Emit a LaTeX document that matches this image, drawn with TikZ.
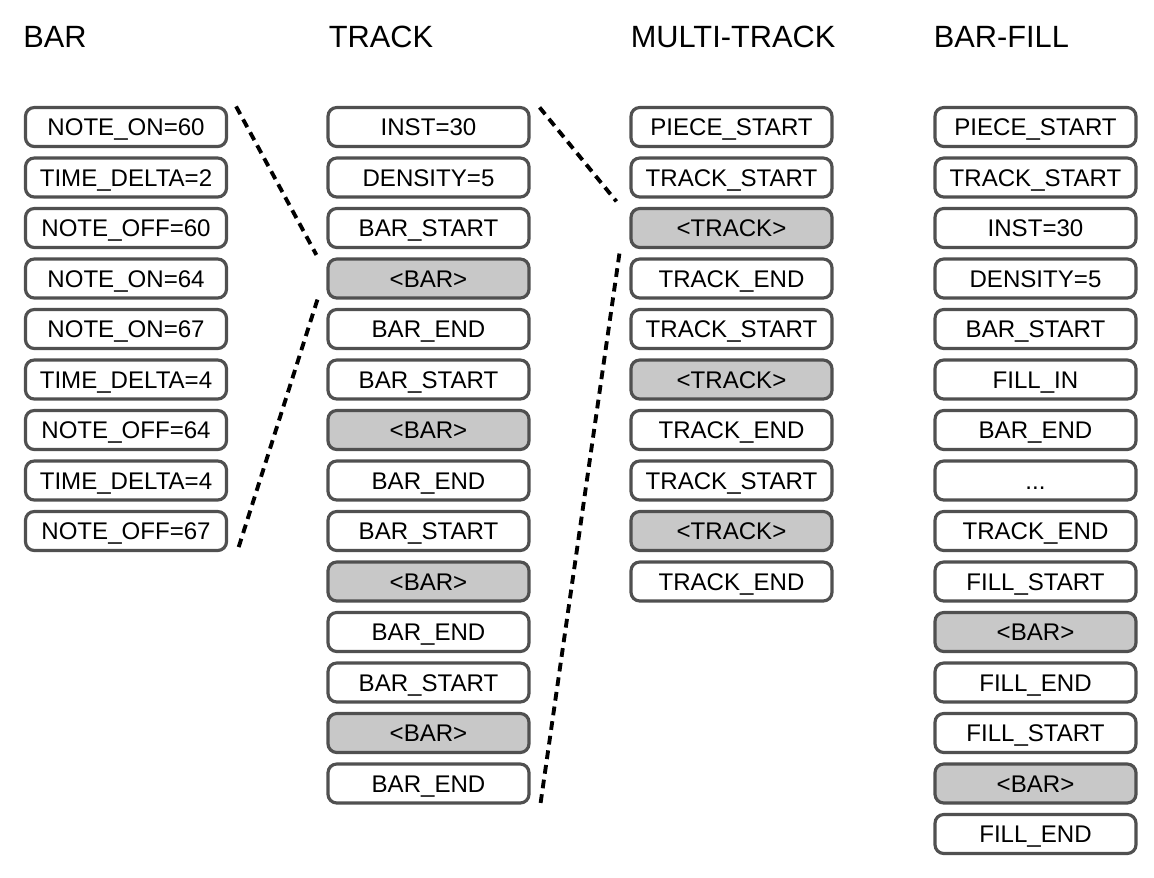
\documentclass[tikz,border=0pt]{standalone}
\usepackage{fontspec}
\setmainfont{Liberation Sans}
\usetikzlibrary{positioning,calc}
\definecolor{boxgray}{HTML}{505050}
\definecolor{barfill}{HTML}{C8C8C8}
\tikzset{
  token/.style={rectangle,draw=boxgray,line width=1.8pt,rounded corners=5pt,
    minimum width=4.02cm,minimum height=0.78cm,inner sep=0pt,fill=white,
    text height=10pt,text depth=0pt,
    font=\fontsize{13.7}{16}\selectfont},
  inner/.style={token,fill=barfill},
  header/.style={anchor=base west,inner sep=0pt,font=\fontsize{17.5}{20}\selectfont},
  dotline/.style={line width=2.2pt,dash pattern=on 5pt off 3.4pt}
}
\begin{document}
\begin{tikzpicture}
    \useasboundingbox (0,0) rectangle (23.08,-17.54);

    % headers
    \node[header] at (0.46, -0.95) (hbar) {BAR};
    \node[header] at (6.57, -0.95) (htrack) {TRACK};
    \node[header] at (12.61, -0.95) (hmulti) {MULTI-TRACK};
    \node[header] at (18.67, -0.95) (hfill) {BAR-FILL};

    % bar
    \node at (2.52, -2.54) [token] (b1) {NOTE\_ON=60};
    \node at (2.52, -3.55) [token] (b2) {TIME\_DELTA=2};
    \node at (2.52, -4.56) [token] (b3) {NOTE\_OFF=60};
    \node at (2.52, -5.57) [token] (b4) {NOTE\_ON=64};
    \node at (2.52, -6.58) [token] (b5) {NOTE\_ON=67};
    \node at (2.52, -7.59) [token] (b6) {TIME\_DELTA=4};
    \node at (2.52, -8.60) [token] (b7) {NOTE\_OFF=64};
    \node at (2.52, -9.61) [token] (b8) {TIME\_DELTA=4};
    \node at (2.52, -10.62) [token] (b9) {NOTE\_OFF=67};

    % track
    \node at (8.57, -2.54) [token] (t1) {INST=30};
    \node at (8.57, -3.55) [token] (t2) {DENSITY=5};
    \node at (8.57, -4.56) [token] (t3) {BAR\_START};
    \node at (8.57, -5.57) [inner] (t4) {<BAR>};
    \node at (8.57, -6.58) [token] (t5) {BAR\_END};
    \node at (8.57, -7.59) [token] (t6) {BAR\_START};
    \node at (8.57, -8.60) [inner] (t7) {<BAR>};
    \node at (8.57, -9.61) [token] (t8) {BAR\_END};
    \node at (8.57, -10.62) [token] (t9) {BAR\_START};
    \node at (8.57, -11.63) [inner] (t10) {<BAR>};
    \node at (8.57, -12.64) [token] (t11) {BAR\_END};
    \node at (8.57, -13.65) [token] (t12) {BAR\_START};
    \node at (8.57, -14.66) [inner] (t13) {<BAR>};
    \node at (8.57, -15.67) [token] (t14) {BAR\_END};

    % multi-track
    \node at (14.63, -2.54) [token] (m1) {PIECE\_START};
    \node at (14.63, -3.55) [token] (m2) {TRACK\_START};
    \node at (14.63, -4.56) [inner] (m3) {<TRACK>};
    \node at (14.63, -5.57) [token] (m4) {TRACK\_END};
    \node at (14.63, -6.58) [token] (m5) {TRACK\_START};
    \node at (14.63, -7.59) [inner] (m6) {<TRACK>};
    \node at (14.63, -8.60) [token] (m7) {TRACK\_END};
    \node at (14.63, -9.61) [token] (m8) {TRACK\_START};
    \node at (14.63, -10.62) [inner] (m9) {<TRACK>};
    \node at (14.63, -11.63) [token] (m10) {TRACK\_END};

    % bar-fill
    \node at (20.71, -2.54) [token] (f1) {PIECE\_START};
    \node at (20.71, -3.55) [token] (f2) {TRACK\_START};
    \node at (20.71, -4.56) [token] (f3) {INST=30};
    \node at (20.71, -5.57) [token] (f4) {DENSITY=5};
    \node at (20.71, -6.58) [token] (f5) {BAR\_START};
    \node at (20.71, -7.59) [token] (f6) {FILL\_IN};
    \node at (20.71, -8.60) [token] (f7) {BAR\_END};
    \node at (20.71, -9.61) [token] (f8) {...};
    \node at (20.71, -10.62) [token] (f9) {TRACK\_END};
    \node at (20.71, -11.63) [token] (f10) {FILL\_START};
    \node at (20.71, -12.64) [inner] (f11) {<BAR>};
    \node at (20.71, -13.65) [token] (f12) {FILL\_END};
    \node at (20.71, -14.66) [token] (f13) {FILL\_START};
    \node at (20.71, -15.67) [inner] (f14) {<BAR>};
    \node at (20.71, -16.68) [token] (f15) {FILL\_END};

    \draw[dotline] ($(b1.north east)+(0.16,-0.01)$) -- ($(t4.north west)+(-0.2,0.05)$);
    \draw[dotline] ($(t4.south west)+(-0.18,0)$) -- ($(b9.south east)+(0.18,0)$);
    \draw[dotline] ($(t1.north east)+(0.18,-0.03)$) -- ($(m3.north west)+(-0.26,0.11)$);
    \draw[dotline] ($(m3.south west)+(-0.2,-0.09)$) -- ($(t14.south east)+(0.2,0.03)$);
\end{tikzpicture}
\end{document}
